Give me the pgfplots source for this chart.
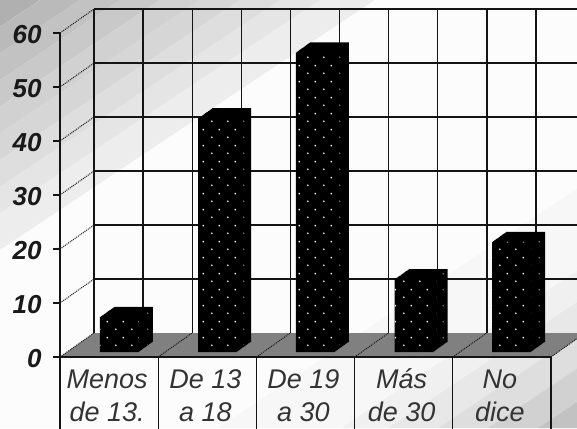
\documentclass[border=0pt]{standalone}
\usepackage{fontspec}
\setmainfont{Liberation Sans}
\usepackage{pgfplots}
\usepackage{pgfplotstable}
\pgfplotsset{compat=1.18}
\usetikzlibrary{patterns}
\pgfdeclarepatternformonly{stagger}{\pgfqpoint{0pt}{0pt}}{\pgfqpoint{16pt}{16pt}}{\pgfqpoint{16pt}{16pt}}{%
  \pgfpathcircle{\pgfqpoint{4pt}{4pt}}{1pt}\pgfpathcircle{\pgfqpoint{12pt}{12pt}}{1pt}\pgfusepath{fill}}
\pgfplotstableread{
x v
0.605 6.5
1.605 43.3
2.600 55.5
3.605 13.5
4.600 20.4
}\bardata
\definecolor{gridc}{gray}{0.08}
\pgfplotsset{chartbase/.style={
  scale only axis,width=491pt,height=324pt,xmin=0,xmax=5,ymin=0,ymax=60,
  anchor=south west,clip=false},
  gl/.style={gridc,line width=1.4pt,forget plot}}
\newcommand{\lab}[2]{\rule{0pt}{22pt}#1\\#2}
\begin{document}
\begin{tikzpicture}[x=1pt,y=1pt]
\path[use as bounding box,clip] (0,0) rectangle (577,428);
\fill[white] (0,0) rectangle (577,428);
% background: diagonal bands, x+1.5y measured from the top left
\foreach \a/\b/\g in {-10/40/31,40/80/27,80/120/24,120/160/21,160/200/18,200/240/16,240/280/13,280/320/10,320/375/7,375/860/1,860/983/3,983/1030/6,1030/1080/9,1080/1130/13,1130/1180/18,1180/1300/24}{
  \fill[black!\g!white] ({\a},428) -- ({\b},428) -- ({\b-642},0) -- ({\a-642},0) -- cycle;
}
% floor
\fill[black!50!white] (60,71) -- (551,71) -- (585,95) -- (94,95) -- cycle;
% back wall
\begin{axis}[chartbase,at={(94pt,95pt)},axis lines=none]
  \addplot[gl] coordinates {(0,0)(0,60)};
  \addplot[gl] coordinates {(0.5,0)(0.5,60)};
  \addplot[gl] coordinates {(1,0)(1,60)};
  \addplot[gl] coordinates {(1.5,0)(1.5,60)};
  \addplot[gl] coordinates {(2,0)(2,60)};
  \addplot[gl] coordinates {(2.5,0)(2.5,60)};
  \addplot[gl] coordinates {(3,0)(3,60)};
  \addplot[gl] coordinates {(3.5,0)(3.5,60)};
  \addplot[gl] coordinates {(4,0)(4,60)};
  \addplot[gl] coordinates {(4.5,0)(4.5,60)};
  \addplot[gl] coordinates {(0,10)(5,10)};
  \addplot[gl] coordinates {(0,20)(5,20)};
  \addplot[gl] coordinates {(0,30)(5,30)};
  \addplot[gl] coordinates {(0,40)(5,40)};
  \addplot[gl] coordinates {(0,50)(5,50)};
  \addplot[gl] coordinates {(0,60)(5,60)};
\end{axis}
% left wall and floor dividers
\foreach \v in {10,20,30,40,50,60}{
  \draw[gridc,line width=1pt,densely dotted] (60,{71+5.4*\v}) -- ++(34,24);
}
\foreach \x in {60,158.2,256.4,354.6,452.8,551}{
  \draw[gridc,line width=1pt,densely dotted] (\x,71) -- ++(34,24);
}
% front axis with bars
\begin{axis}[chartbase,at={(60pt,71pt)},
  axis x line*=bottom,axis y line*=left,
  axis line style={gridc,line width=1.3pt,-},
  tick align=outside,
  xtick={0.5,1.5,2.5,3.5,4.5},
  xticklabels={{\lab{Menos}{de 13.}},{\lab{De 13}{a 18}},{\lab{De 19}{a 30}},{\lab{Más}{de 30}},{\lab{No}{dice}}},
  minor xtick={0,1,2,3,4,5},
  xtick style={draw=none},
  minor x tick style={draw=gridc,line width=1.3pt},
  minor tick length=72pt,
  x tick label style={font=\fontsize{27}{33}\selectfont\itshape,align=center,
     text=black!80,anchor=north,yshift=1pt,xshift=-2pt},
  ytick={0,10,20,30,40,50,60},
  ytick style={draw=gridc,line width=1.3pt},
  major tick length=7pt,
  y tick label style={font=\fontsize{26}{26}\selectfont\bfseries\itshape,
     /pgf/number format/assume math mode=true,text=black!90,xshift=-8pt,yshift=-2pt},
  ]
  \pgfplotsinvokeforeach{0,1,...,14}{
    \addplot[ybar,bar shift=0pt,bar width=39pt,fill=black,draw=none,
      xshift=#1pt,yshift={5pt+#1*0.714pt}] table[x=x,y=v] {\bardata};
  }
  \addplot[ybar,bar shift=0pt,bar width=39pt,draw=none,pattern=stagger,pattern color=white,
      yshift=5pt] table[x=x,y=v] {\bardata};
  \addplot[ybar,bar shift=0pt,bar width=8pt,draw=none,pattern=stagger,pattern color=black!55,
      xshift=26pt,yshift=12pt] table[x=x,y=v] {\bardata};
\end{axis}
\end{tikzpicture}
\end{document}
